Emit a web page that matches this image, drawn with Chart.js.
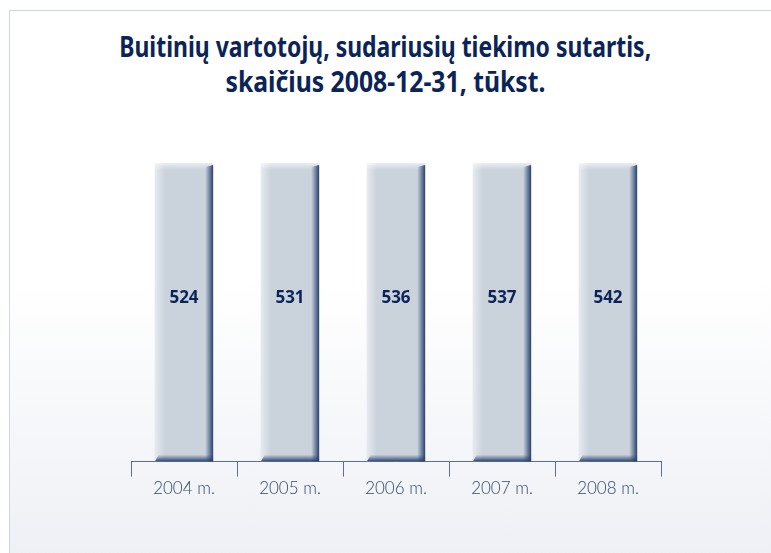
<!DOCTYPE html>
<html>
<head>
<meta charset="utf-8">
<script src="https://cdn.jsdelivr.net/npm/chart.js@4.4.1/dist/chart.umd.min.js"></script>
<style>
  html, body { margin: 0; padding: 0; background: #fff; }
  body { width: 771px; height: 553px; position: relative; overflow: hidden; }
  .frame {
    position: absolute; left: 9px; top: 10px; width: 800px; height: 600px;
    border: 1px solid #cdd6e6;
    background: linear-gradient(to bottom, #ffffff 0%, #ffffff 45%, #eaedf3 100%);
  }
  .title {
    position: absolute; left: 0; width: 771px; text-align: center;
    font-family: "Noto Sans", sans-serif; font-weight: bold; font-size: 29px;
    color: #0b2458; white-space: nowrap; line-height: 35px;
  }
  .title span { display: inline-block; transform-origin: center; }
  #chart { position: absolute; left: 0; top: 0; }
</style>
</head>
<body>
<div class="frame"></div>
<div class="title" id="title"></div>
<canvas id="chart" width="771" height="553"></canvas>
<script>
const years = ["2004 m.", "2005 m.", "2006 m.", "2007 m.", "2008 m."];
const consumers = [524, 531, 536, 537, 542];
// in the source all columns are drawn at the same full height
const columnHeight = [100, 100, 100, 100, 100];

const titleLines = [
  "Buitinių vartotojų, sudariusių tiekimo sutartis,",
  "skaičius 2008-12-31, tūkst.",
];
// widths of the two title lines in the source (condensed face)
const titleWidths = [532, 320];

const NAVY = "#0b2458";

const titleBox = document.getElementById("title");
titleBox.style.top = "28px";
titleLines.forEach((line, i) => {
  const row = document.createElement("div");
  const span = document.createElement("span");
  span.textContent = line;
  row.appendChild(span);
  titleBox.appendChild(row);
  const squeeze = titleWidths[i] / span.getBoundingClientRect().width;
  span.style.transform = `scaleX(${squeeze})`;
});

// 3D-looking edges on each column
const columnShade = {
  id: "columnShade",
  afterDatasetsDraw(chart) {
    const ctx = chart.ctx;
    chart.getDatasetMeta(0).data.forEach((bar) => {
      const left = bar.x - bar.width / 2;
      const right = bar.x + bar.width / 2;
      const top = bar.y;
      const bottom = bar.base;
      ctx.save();

      let g = ctx.createLinearGradient(left, 0, left + 10, 0);
      g.addColorStop(0, "rgba(255,255,255,0.55)");
      g.addColorStop(1, "rgba(255,255,255,0)");
      ctx.fillStyle = g;
      ctx.fillRect(left, top, 10, bottom - top);

      g = ctx.createLinearGradient(0, top, 0, top + 7);
      g.addColorStop(0, "rgba(255,255,255,0.6)");
      g.addColorStop(1, "rgba(255,255,255,0)");
      ctx.fillStyle = g;
      ctx.fillRect(left, top, right - left, 7);

      g = ctx.createLinearGradient(right - 8, 0, right, 0);
      g.addColorStop(0, "rgba(47,74,120,0)");
      g.addColorStop(1, "rgba(40,64,110,1)");
      ctx.fillStyle = g;
      ctx.beginPath();
      ctx.moveTo(right - 8, top + 4);
      ctx.lineTo(right, top + 2);
      ctx.lineTo(right, bottom);
      ctx.lineTo(right - 8, bottom);
      ctx.closePath();
      ctx.fill();

      g = ctx.createLinearGradient(0, bottom - 7, 0, bottom);
      g.addColorStop(0, "rgba(47,74,120,0)");
      g.addColorStop(1, "rgba(40,64,110,1)");
      ctx.fillStyle = g;
      ctx.beginPath();
      ctx.moveTo(left + 4, bottom - 7);
      ctx.lineTo(right, bottom - 7);
      ctx.lineTo(right, bottom);
      ctx.lineTo(left, bottom);
      ctx.closePath();
      ctx.fill();

      ctx.restore();
    });
  },
};

const valueLabels = {
  id: "valueLabels",
  afterDatasetsDraw(chart) {
    const ctx = chart.ctx;
    ctx.save();
    ctx.fillStyle = NAVY;
    ctx.font = "bold 17px 'Open Sans', sans-serif";
    ctx.textAlign = "center";
    ctx.textBaseline = "middle";
    chart.getDatasetMeta(0).data.forEach((bar, i) => {
      ctx.fillText(String(consumers[i]), bar.x, (bar.y + bar.base) / 2 - 14);
    });
    ctx.restore();
  },
};

new Chart(document.getElementById("chart"), {
  type: "bar",
  plugins: [columnShade, valueLabels],
  data: {
    labels: years,
    datasets: [
      {
        data: columnHeight,
        backgroundColor: "#cad2dc",
        borderWidth: 0,
        categoryPercentage: 1,
        barPercentage: 0.55,
      },
    ],
  },
  options: {
    responsive: false,
    animation: false,
    layout: {
      padding: { left: 131, right: 110, top: 163, bottom: 52 },
    },
    plugins: {
      legend: { display: false },
      tooltip: { enabled: false },
      title: { display: false },
    },
    scales: {
      x: {
        border: { display: true, color: "#5f7092", width: 1 },
        grid: {
          offset: true,
          drawOnChartArea: false,
          drawTicks: true,
          tickLength: 15,
          color: "#5f7092",
        },
        ticks: {
          color: "#34486e",
          padding: 2,
          font: { family: "Lato, sans-serif", size: 17, weight: "300" },
        },
      },
      y: {
        display: false,
        min: 0,
        max: 100,
      },
    },
  },
});
</script>
</body>
</html>
